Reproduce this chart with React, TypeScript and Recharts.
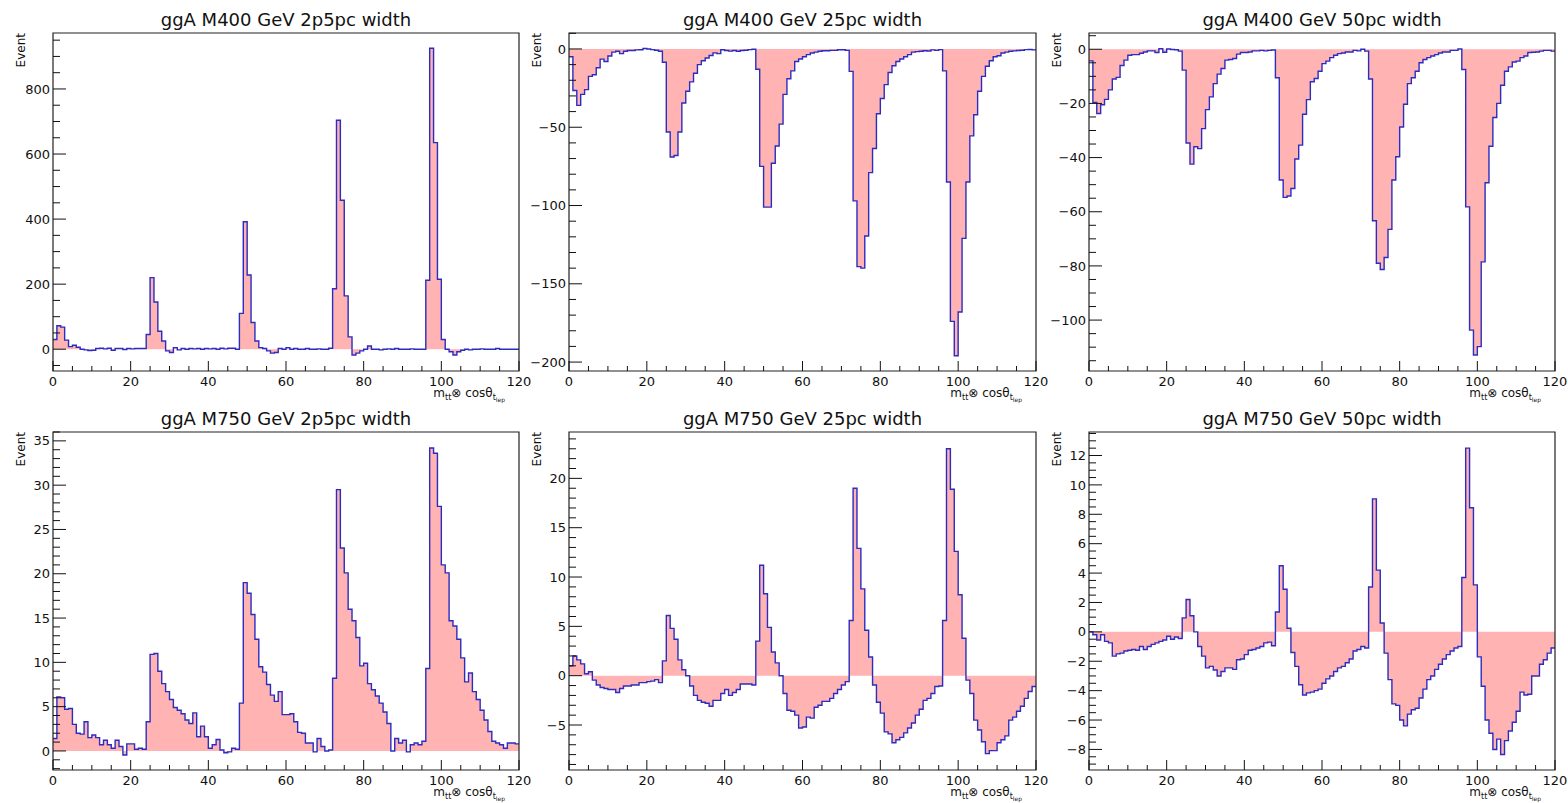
import { ComposedChart, Area, XAxis, YAxis, ReferenceArea } from "recharts";

// bin lower edges 0..120 (120 bins of width 1)
const binEdges: number[] = Array.from({ length: 121 }, (_, i) => i);

const m400w2p5: number[] = [
  30, 72, 68, 28, 8, 12, 6, 0, -2, -4, -3, 2, 3, 1, 3, -3, 2, 2, -1, 2, 1, 2, 2, 2,
  45, 220, 145, 55, 25, -5, -10, 5, -2, 2, 0, 2, 1, 2, 0, 2, 1, 2, 0, 3, 1, 3, 3, 0,
  110, 392, 228, 82, 25, 5, 2, -5, -12, -10, 2, 0, 5, 0, 2, 0, 0, 2, 0, 0, 1, 0, 0, 3,
  186, 704, 458, 164, 38, -18, -12, -5, 0, 10, 0, 0, -2, 0, 1, 0, 2, 0, 0, 0, 1, 0, 0, 0,
  212, 925, 635, 215, 30, 0, -8, -18, -8, -3, 0, -2, 0, 0, 1, 0, 0, 0, 2, 0, 0, 0, 0, 0,
];

const m400w25: number[] = [
  -5, -26.5, -36, -29, -26, -17.5, -16.5, -12, -6.5, -8, -4.5, -2, -1.5, -3, -1.5, -1, -1, -0.6, -0.5, 0.3, 0, -0.4, -0.8, -1.5,
  -8.5, -53, -69, -68, -53, -34.5, -27, -21, -15.5, -10, -7.5, -5.8, -4.2, -2.5, -3, -0.5, -1, -1.4, -1, -1.5, -1, -0.8, -0.4, -0.2,
  -13, -75, -101, -101, -73, -62, -48, -29, -19, -14, -8, -6.4, -5, -3.6, -2.6, -2, -1.5, -1.1, -1.1, -0.9, -0.9, -0.5, -0.5, -0.9,
  -14.3, -97, -139, -140, -119.5, -79, -63.6, -41.4, -31.6, -22.8, -15, -10.7, -8, -6.4, -5, -3.6, -2, -1.7, -1.5, -1.1, -1.3, -0.6, -0.9, -0.4,
  -14, -85, -174, -196, -168, -121, -85, -55.5, -42, -27, -17.5, -11, -7.5, -5, -4.3, -2.6, -2, -1.5, -1.2, -1, -0.8, -0.4, -0.3, -0.6,
];

const m400w50: number[] = [
  -4.3, -19.6, -23.7, -20.5, -18.5, -15, -11, -10.4, -6, -4, -2.2, -2, -2, -1.5, -1, -0.6, -0.6, -1.2, 0.2, -1.1, 0.1, -0.1, -0.2, -0.7,
  -7.7, -34.6, -42.4, -36, -36.7, -29.3, -22.3, -17.6, -12.7, -9.2, -7.1, -4, -3.8, -3.4, -1.8, -1.2, -1.2, -1, -0.6, -0.6, -0.4, -0.6, -0.4, -0.3,
  -10.5, -48.3, -54.7, -54.2, -51.4, -40.5, -35.4, -24, -18.6, -12, -10.8, -8.1, -5.3, -4.4, -3.1, -2.2, -1.6, -1.4, -1, -1, -0.4, -0.6, 0, -0.7,
  -11, -63.3, -79, -81.3, -76.9, -66.5, -48.3, -39.7, -28.7, -20.3, -12.7, -10.5, -8.1, -5, -3.8, -3.1, -2.5, -2, -1.4, -1, -1, -0.4, -0.4, 0.1,
  -7.5, -58.2, -103.7, -112.9, -109.8, -78.5, -49.3, -35.8, -25.2, -20, -13.3, -8.1, -6.5, -4.7, -4.4, -3.1, -2.5, -1.2, -1.1, -1, -0.7, -0.4, -0.4, -0.7,
];

const m750w2p5: number[] = [
  1.4, 6.1, 6.0, 4.7, 4.8, 3.0, 2.0, 1.9, 3.3, 1.5, 1.8, 1.5, 0.7, 1.2, 0.7, 0.3, 1.2, 0.5, -0.45, 0.8, 0.8, 0.2, 0.3, 0.2,
  3.3, 10.9, 11.0, 9.0, 7.6, 6.7, 5.8, 4.9, 4.6, 4.2, 3.5, 3.1, 4.3, 1.6, 2.8, 1.6, 0.3, 0.7, 1.3, 0.1, -0.2, -0.1, 0.3, 0.2,
  5.4, 19.0, 17.8, 15.4, 12.6, 9.5, 8.9, 7.5, 6.3, 5.6, 6.7, 4.1, 4.1, 4.2, 3.3, 2.1, 2.0, 0.9, 0.9, -0.1, 1.4, 0.5, 0.0, 0.1,
  8.2, 29.5, 22.9, 20.1, 16.0, 14.7, 12.8, 9.6, 9.9, 7.6, 6.9, 6.2, 5.4, 4.4, 3.1, 0.0, 1.4, 0.9, 1.2, -0.1, 0.7, 0.9, 0.7, 1.1,
  9.3, 34.2, 33.6, 27.6, 21.0, 20.1, 14.7, 14.1, 12.6, 10.5, 7.8, 8.8, 6.7, 5.8, 4.6, 3.5, 2.2, 1.1, 0.9, 0.7, 0.3, 0.9, 0.9, 0.8,
];

const m750w25: number[] = [
  1.0, 2.0, 1.6, 1.2, 0.2, 0.4, -0.45, -0.95, -1.2, -1.3, -1.4, -1.4, -1.7, -1.3, -1.05, -1.05, -0.95, -0.95, -0.7, -0.7, -0.6, -0.55, -0.4, -0.7,
  1.5, 6.1, 4.8, 3.7, 1.6, 0.6, 0, -1.05, -2.0, -2.5, -2.7, -2.8, -3.1, -2.5, -2.5, -1.8, -1.4, -2.0, -1.7, -1.4, -0.85, -0.85, -0.85, -0.95,
  3.5, 11.2, 8.3, 4.9, 2.4, 1.3, 0, -1.8, -3.5, -3.6, -4.0, -5.3, -5.2, -4.2, -4.3, -3.2, -3.0, -2.6, -2.6, -2.3, -1.8, -1.4, -0.95, -0.6,
  5.6, 19.0, 12.9, 8.8, 4.6, 1.9, -0.95, -2.7, -3.8, -5.7, -5.9, -6.8, -6.5, -6.25, -5.8, -5.3, -4.8, -4.0, -3.4, -2.5, -2.3, -1.8, -1.1, -1.05,
  5.6, 23.0, 18.9, 12.6, 8.2, 3.8, -0.45, -1.8, -4.5, -5.5, -6.7, -7.9, -7.6, -7.6, -6.8, -6.5, -6.1, -4.5, -4.2, -3.6, -3.1, -2.3, -1.6, -1.1,
];

const m750w50: number[] = [
  0, -0.2, -0.55, -0.2, -0.65, -0.75, -1.65, -1.5, -1.45, -1.3, -1.25, -1.2, -1.25, -1.0, -1.2, -1.0, -0.85, -0.75, -0.65, -0.55, -0.3, -0.5, -0.35, -0.45,
  0.95, 2.2, 1.1, 0, -1.0, -1.65, -2.45, -2.35, -2.6, -3.0, -2.7, -2.45, -2.45, -2.55, -1.9, -1.85, -1.55, -1.25, -1.2, -1.1, -1.0, -0.75, -0.7, -0.95,
  1.35, 4.5, 2.9, 0.25, -1.4, -2.35, -3.6, -4.3, -4.15, -4.1, -4.0, -3.9, -3.5, -3.2, -3.0, -2.7, -2.45, -2.35, -2.1, -1.85, -1.3, -1.2, -1.0, -1.1,
  3.05, 9.05, 4.2, 0.6, -1.45, -3.25, -4.9, -5.0, -6.0, -6.4, -5.6, -5.3, -5.2, -4.5, -3.9, -3.25, -3.0, -2.55, -2.2, -1.85, -1.55, -1.3, -1.1, -1.0,
  3.7, 12.5, 8.45, 3.2, -1.7, -3.7, -6.0, -6.9, -8.0, -7.3, -8.35, -7.4, -6.75, -6.15, -5.4, -4.1, -4.3, -4.25, -3.0, -3.0, -2.2, -1.9, -1.45, -1.1,
];

const titles: string[] = [
  "ggA M400 GeV 2p5pc width",
  "ggA M400 GeV 25pc width",
  "ggA M400 GeV 50pc width",
  "ggA M750 GeV 2p5pc width",
  "ggA M750 GeV 25pc width",
  "ggA M750 GeV 50pc width",
];

const xMajorTicks: number[] = [0, 20, 40, 60, 80, 100, 120];
const yMajorTicks: number[][] = [
  [0, 200, 400, 600, 800],
  [-200, -150, -100, -50, 0],
  [-100, -80, -60, -40, -20, 0],
  [0, 5, 10, 15, 20, 25, 30, 35],
  [-5, 0, 5, 10, 15, 20],
  [-8, -6, -4, -2, 0, 2, 4, 6, 8, 10, 12],
];

const FILL = "#ffb3b3";
const LINE = "#2c2cc0";
const INK = "#111";
const FONT = '"DejaVu Sans", Arial, sans-serif';

const colLeft = [53, 569, 1089];
const colWidth = [466, 467, 466];
const rowTop = [33, 432];
const frameH = 338;
const YW = 52;
const XH = 40;

interface PanelCfg {
  title: string;
  values: number[];
  domain: [number, number];
  majors: number[];
  minorStep: number;
  left: number;
  top: number;
  width: number;
}

const panels: PanelCfg[] = [
  { title: titles[0], values: m400w2p5, domain: [-67, 972], majors: yMajorTicks[0], minorStep: 50, left: colLeft[0], top: rowTop[0], width: colWidth[0] },
  { title: titles[1], values: m400w25, domain: [-205.7, 10.2], majors: yMajorTicks[1], minorStep: 10, left: colLeft[1], top: rowTop[0], width: colWidth[1] },
  { title: titles[2], values: m400w50, domain: [-118.8, 6], majors: yMajorTicks[2], minorStep: 5, left: colLeft[2], top: rowTop[0], width: colWidth[2] },
  { title: titles[3], values: m750w2p5, domain: [-2.15, 36], majors: yMajorTicks[3], minorStep: 1, left: colLeft[0], top: rowTop[1], width: colWidth[0] },
  { title: titles[4], values: m750w25, domain: [-9.56, 24.7], majors: yMajorTicks[4], minorStep: 1, left: colLeft[1], top: rowTop[1], width: colWidth[1] },
  { title: titles[5], values: m750w50, domain: [-9.4, 13.6], majors: yMajorTicks[5], minorStep: 0.5, left: colLeft[2], top: rowTop[1], width: colWidth[2] },
];

function stepTicks(lo: number, hi: number, step: number): number[] {
  const out: number[] = [];
  const k0 = Math.ceil(lo / step - 1e-9);
  const k1 = Math.floor(hi / step + 1e-9);
  for (let k = k0; k <= k1; k++) out.push(Math.round(k * step * 1000) / 1000);
  return out;
}

const fmt = (v: number) => (v < 0 ? "\u2212" + Math.abs(v) : String(v));
const isMajor = (v: number, majors: number[]) => majors.some((m) => Math.abs(m - v) < 1e-6);

const xTicks = stepTicks(0, 120, 5);

function Panel({ cfg }: { cfg: PanelCfg }) {
  const data = binEdges.map((x, i) => ({ x, y: cfg.values[Math.min(i, cfg.values.length - 1)] }));
  const yTicks = stepTicks(cfg.domain[0], cfg.domain[1], cfg.minorStep);
  const W = YW + cfg.width + 12;
  const H = 2 + frameH + XH;

  const renderXTick = (p: any) => {
    const { x, y, payload } = p;
    const major = isMajor(payload.value, xMajorTicks);
    return (
      <g>
        <line x1={x} x2={x} y1={y} y2={y - (major ? 10 : 5)} stroke={INK} strokeWidth={1} />
        {major && (
          <text x={x} y={y + 15} textAnchor="middle" fontSize={13} fontFamily={FONT} fill={INK}>
            {fmt(payload.value)}
          </text>
        )}
      </g>
    );
  };

  const renderYTick = (p: any) => {
    const { x, y, payload } = p;
    const major = isMajor(payload.value, cfg.majors);
    return (
      <g>
        <line x1={x} x2={x + (major ? 13 : 7)} y1={y} y2={y} stroke={INK} strokeWidth={1} />
        {major && (
          <text x={x - 3} y={y + 4.6} textAnchor="end" fontSize={13} fontFamily={FONT} fill={INK}>
            {fmt(payload.value)}
          </text>
        )}
      </g>
    );
  };

  return (
    <div style={{ position: "absolute", left: cfg.left - YW, top: cfg.top - 2, width: W, height: H }}>
      <ComposedChart width={W} height={H} data={data} margin={{ top: 2, right: 12, bottom: 0, left: 0 }}>
        <XAxis
          type="number"
          dataKey="x"
          domain={[0, 120]}
          ticks={xTicks}
          interval={0}
          tickSize={0}
          tickMargin={0}
          axisLine={false}
          tickLine={false}
          tick={renderXTick}
          height={XH}
          allowDataOverflow
        />
        <YAxis
          type="number"
          domain={cfg.domain}
          ticks={yTicks}
          interval={0}
          tickSize={0}
          tickMargin={0}
          axisLine={false}
          tickLine={false}
          tick={renderYTick}
          width={YW}
          allowDataOverflow
        />
        <Area
          type="stepAfter"
          dataKey="y"
          baseValue={0}
          fill={FILL}
          fillOpacity={1}
          stroke={LINE}
          strokeWidth={1.4}
          dot={false}
          activeDot={false}
          isAnimationActive={false}
        />
        <ReferenceArea
          x1={0}
          x2={120}
          y1={cfg.domain[0]}
          y2={cfg.domain[1]}
          fill="none"
          stroke="#222"
          strokeWidth={1.2}
          ifOverflow="visible"
        />
      </ComposedChart>
    </div>
  );
}

function Labels() {
  return (
    <svg width={1568} height={803} style={{ position: "absolute", left: 0, top: 0, pointerEvents: "none" }}>
      {panels.map((cfg, i) => {
        const bottom = cfg.top + frameH;
        const right = cfg.left + cfg.width;
        return (
          <g key={i} fontFamily={FONT} fill={INK}>
            <text x={cfg.left + cfg.width / 2} y={cfg.top - 7} textAnchor="middle" fontSize={18}>
              {cfg.title}
            </text>
            <text
              transform={`translate(${cfg.left - 28}, ${cfg.top}) rotate(-90)`}
              textAnchor="end"
              fontSize={12}
            >
              Event
            </text>
            <text x={right - 14} y={bottom + 26} textAnchor="end" fontSize={12}>
              m
              <tspan fontSize={8} dy={3}>tt</tspan>
              <tspan dy={-3}>{"\u2297 cos\u03b8"}</tspan>
              <tspan fontSize={8} dy={3}>t</tspan>
              <tspan fontSize={6} dy={2}>lep</tspan>
            </text>
          </g>
        );
      })}
    </svg>
  );
}

export default function App() {
  return (
    <div style={{ position: "absolute", left: 0, top: 0, width: 1568, height: 803, background: "#fff" }}>
      {panels.map((cfg, i) => (
        <Panel key={i} cfg={cfg} />
      ))}
      <Labels />
    </div>
  );
}
